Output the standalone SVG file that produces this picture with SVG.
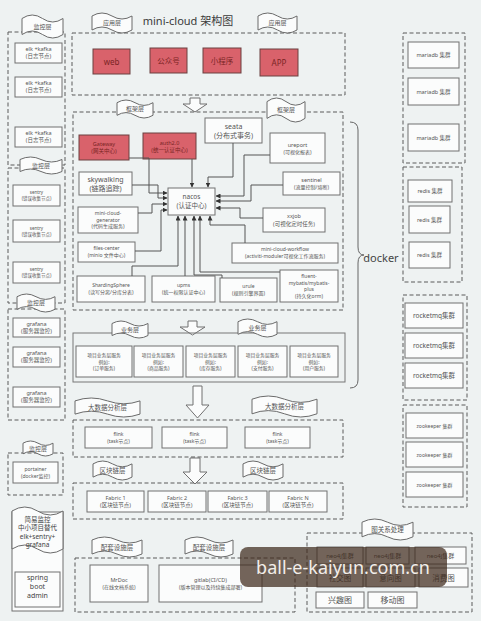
<svg xmlns="http://www.w3.org/2000/svg" width="481" height="621" viewBox="0 0 481 621">
<defs>
<style>
.t{font-family:"Noto Sans","Noto Sans CJK SC",sans-serif;fill:#555;text-anchor:middle}
.b{fill:#fbfcfc;stroke:#707070;stroke-width:1}
.d{fill:none;stroke:#5a5a5a;stroke-width:1;stroke-dasharray:4 2.5}
.r{fill:#d9626b;stroke:#6a4040;stroke-width:1}
.tp{fill:#fbfcfc;stroke:#6b6b6b;stroke-width:1}
.c{fill:none;stroke:#555;stroke-width:1;marker-end:url(#ah)}
.ar{fill:#fbfcfc;stroke:#707070;stroke-width:1}
.rt{fill:#7a2525}
</style>
<marker id="ah" markerWidth="5" markerHeight="5" refX="4.5" refY="2.5" orient="auto" markerUnits="userSpaceOnUse">
<path d="M0,0 L5,2.5 L0,5 z" fill="#333"/>
</marker>
</defs>
<rect x="0" y="0" width="481" height="621" fill="#eef2f2"/>

<g id="mon1">
<rect class="d" x="8" y="32" width="57" height="133"/>
<path class="tp" d="M22,18.5 Q32.25,11.5 42.5,18.5 T63,18.5 L63,34.5 Q52.75,41.5 42.5,34.5 T22,34.5 Z"/>
<text class="t" x="42.5" y="28.5" font-size="6">监控层</text>
<rect class="b" x="15" y="43" width="47" height="20"/>
<text class="t" x="38.5" y="51.4" font-size="5.5">elk +kafka</text><text class="t" x="38.5" y="58.4" font-size="5.5">(日志节点)</text>
<rect class="b" x="15" y="77" width="47" height="20"/>
<text class="t" x="38.5" y="85.4" font-size="5.5">elk +kafka</text><text class="t" x="38.5" y="92.4" font-size="5.5">(日志节点)</text>
<rect class="b" x="15" y="127" width="47" height="20"/>
<text class="t" x="38.5" y="135.4" font-size="5.5">elk +kafka</text><text class="t" x="38.5" y="142.4" font-size="5.5">(日志节点)</text>
</g>
<g id="mon2">
<rect class="d" x="8" y="168" width="57" height="135"/>
<path class="tp" d="M20,159.5 Q30.5,154.5 41,159.5 T62,159.5 L62,171.5 Q51.5,176.5 41,171.5 T20,171.5 Z"/>
<text class="t" x="41" y="167.5" font-size="6">监控层</text>
<rect class="b" x="13" y="185" width="47" height="21"/>
<text class="t" x="36.5" y="194" font-size="4.5">sentry</text><text class="t" x="36.5" y="200" font-size="4.5">(错误收集节点)</text>
<rect class="b" x="13" y="220" width="47" height="22"/>
<text class="t" x="36.5" y="229.5" font-size="4.5">sentry</text><text class="t" x="36.5" y="235.5" font-size="4.5">(错误收集节点)</text>
<rect class="b" x="13" y="262" width="47" height="21"/>
<text class="t" x="36.5" y="271" font-size="4.5">sentry</text><text class="t" x="36.5" y="277" font-size="4.5">(错误收集节点)</text>
</g>
<g id="mon3">
<rect class="d" x="8" y="309" width="57" height="111"/>
<path class="tp" d="M17,296.7 Q26.5,291.3 36,296.7 T55,296.7 L55,309.3 Q45.5,314.7 36,309.3 T17,309.3 Z"/>
<text class="t" x="36" y="305" font-size="6">监控层</text>
<rect class="b" x="13" y="318" width="47" height="19"/>
<text class="t" x="36.5" y="326" font-size="5.5">grafana</text><text class="t" x="36.5" y="333" font-size="5.5">(服务器监控)</text>
<rect class="b" x="13" y="347" width="47" height="20"/>
<text class="t" x="36.5" y="355.4" font-size="5.5">grafana</text><text class="t" x="36.5" y="362.4" font-size="5.5">(服务器监控)</text>
<rect class="b" x="13" y="387" width="47" height="20"/>
<text class="t" x="36.5" y="395.4" font-size="5.5">grafana</text><text class="t" x="36.5" y="402.4" font-size="5.5">(服务器监控)</text>
</g>
<g id="mon4">
<rect class="d" x="8" y="453" width="55" height="42"/>
<path class="tp" d="M23,443.2 Q30.5,438.8 38,443.2 T53,443.2 L53,453.8 Q45.5,458.2 38,453.8 T23,453.8 Z"/>
<text class="t" x="38" y="450.5" font-size="6">监控层</text>
<rect class="b" x="13" y="462" width="45" height="21"/>
<text class="t" x="35.5" y="471" font-size="5">portainer</text><text class="t" x="35.5" y="478" font-size="5">(docker监控)</text>
</g>
<g id="simple-mon">
<rect class="b" x="12" y="512" width="51" height="99"/>
<path class="tp" d="M12,511 Q24.75,503 37.5,511 T63,511 L63,549 Q50.25,557 37.5,549 T12,549 Z"/>
<text class="t" x="37.5" y="522" font-size="6.5" style="fill:#444">简易监控</text>
<text class="t" x="37.5" y="530" font-size="6.5" style="fill:#444">中小项目替代</text>
<text class="t" x="37.5" y="538.5" font-size="6.5" style="fill:#444">elk+sentry+</text>
<text class="t" x="37.5" y="546.5" font-size="6.5" style="fill:#444">grafana</text>
<rect class="b" x="15" y="572" width="45" height="35"/>
<text class="t" x="37.5" y="580" font-size="7" style="fill:#444">spring</text>
<text class="t" x="37.5" y="589" font-size="7" style="fill:#444">boot</text>
<text class="t" x="37.5" y="598" font-size="7" style="fill:#444">admin</text>
</g>

<g id="app-layer">
<text class="t" x="188" y="25" font-size="11" style="fill:#3a3a3a">mini-cloud 架构图</text>
<rect class="d" x="72" y="33" width="273" height="62"/>
<path class="tp" d="M92,16 Q102,10 112,16 T132,16 L132,30 Q122,36 112,30 T92,30 Z"/>
<text class="t" x="112" y="25" font-size="6">应用层</text>
<path class="tp" d="M258,16 Q267.75,10 277.5,16 T297,16 L297,30 Q287.25,36 277.5,30 T258,30 Z"/>
<text class="t" x="277.5" y="25" font-size="6">应用层</text>
</g>
<g id="web"><rect class="r" x="93" y="49" width="37" height="25"/><text class="t rt" x="111.5" y="64.5" font-size="8">web</text></g>
<g id="gzh"><rect class="r" x="150" y="48" width="37" height="25"/><text class="t rt" x="168.5" y="63.5" font-size="7.5">公众号</text></g>
<g id="xcx"><rect class="r" x="203" y="48" width="38" height="25"/><text class="t rt" x="222" y="63.5" font-size="7.5">小程序</text></g>
<g id="app"><rect class="r" x="260" y="49" width="38" height="27"/><text class="t rt" x="279" y="65.5" font-size="8">APP</text></g>

<g id="arrows">
<path class="ar" d="M190,98 H200 V104 H207 L195,112 L183,104 H190 Z"/>
<path class="ar" d="M188,321 H197 V327 H205 L192.5,335 L180,327 H188 Z"/>
<path class="ar" d="M193,386 H202 V405 H209 L197.5,418 L186,405 H193 Z"/>
<path class="ar" d="M190,458 H200 V472 H207 L195,484 L183,472 H190 Z"/>
</g>

<g id="fw-layer">
<rect class="d" x="73" y="112" width="270" height="198"/>
<path class="tp" d="M117,102.7 Q126,97.3 135,102.7 T153,102.7 L153,115.3 Q144,120.7 135,115.3 T117,115.3 Z"/>
<text class="t" x="135" y="111" font-size="6">框架层</text>
<path class="tp" d="M267,101.6 Q276.5,94.4 286,101.6 T305,101.6 L305,118.4 Q295.5,125.6 286,118.4 T267,118.4 Z"/>
<text class="t" x="286" y="112" font-size="6">框架层</text>
</g>
<g id="gateway"><rect class="r" x="79" y="135" width="50" height="25"/><text class="t rt" x="104" y="146" font-size="5.5">Gateway</text><text class="t rt" x="104" y="153" font-size="5.5">(网关中心)</text></g>
<g id="auth"><rect class="r" x="143" y="133" width="53" height="26"/><text class="t rt" x="169.5" y="144.5" font-size="5.5">auth2.0</text><text class="t rt" x="169.5" y="151.5" font-size="5.5">(统一认证中心)</text></g>
<g id="seata"><rect class="b" x="205" y="118" width="57" height="25"/><text class="t" x="233.5" y="128.5" font-size="7">seata</text><text class="t" x="233.5" y="137.5" font-size="7">(分布式事务)</text></g>
<g id="ureport"><rect class="b" x="270" y="133" width="55" height="30"/><text class="t" x="297.5" y="146.5" font-size="5.5">ureport</text><text class="t" x="297.5" y="153.5" font-size="5">(可视化报表)</text></g>
<g id="skywalking"><rect class="b" x="79" y="172" width="53" height="23"/><text class="t" x="105.5" y="181.5" font-size="7">skywalking</text><text class="t" x="105.5" y="190.5" font-size="7">(链路追踪)</text></g>
<g id="sentinel"><rect class="b" x="283" y="172" width="57" height="23"/><text class="t" x="311.5" y="181.8" font-size="5.5">sentinel</text><text class="t" x="311.5" y="188.8" font-size="5">(流量控制/熔断)</text></g>
<g id="nacos"><rect class="b" x="168" y="188" width="47" height="27"/><text class="t" x="191.5" y="199.3" font-size="6.5">nacos</text><text class="t" x="191.5" y="208.3" font-size="6.5">(认证中心)</text></g>
<g id="generator"><rect class="b" x="78" y="207" width="60" height="26"/><text class="t" x="108" y="215" font-size="5">mini-cloud-</text><text class="t" x="108" y="221.5" font-size="5">generator</text><text class="t" x="108" y="228" font-size="5">(代码生成服务)</text></g>
<g id="xxjob"><rect class="b" x="263" y="208" width="62" height="24"/><text class="t" x="294" y="218.2" font-size="5.5">xxjob</text><text class="t" x="294" y="225.7" font-size="5.5">(可视化定时任务)</text></g>
<g id="files"><rect class="b" x="78" y="242" width="57" height="20"/><text class="t" x="106.5" y="250.3" font-size="5">files-center</text><text class="t" x="106.5" y="257.3" font-size="5">(minio 文件中心)</text></g>
<g id="workflow"><rect class="b" x="232" y="243" width="106" height="20"/><text class="t" x="285" y="251.3" font-size="5">mini-cloud-workflow</text><text class="t" x="285" y="258.3" font-size="5">(activiti-moduler可视化工作流服务)</text></g>
<g id="sharding"><rect class="b" x="77" y="276" width="68" height="26"/><text class="t" x="111" y="287.3" font-size="5">ShardingSphere</text><text class="t" x="111" y="294.3" font-size="5">(读写分离/分库分表)</text></g>
<g id="upms"><rect class="b" x="152" y="276" width="63" height="26"/><text class="t" x="183.5" y="287.3" font-size="5">upms</text><text class="t" x="183.5" y="294.3" font-size="5">(统一权限认证中心)</text></g>
<g id="urule"><rect class="b" x="220" y="278" width="57" height="24"/><text class="t" x="248.5" y="288.3" font-size="5">urule</text><text class="t" x="248.5" y="295.3" font-size="5">(规则引擎界面)</text></g>
<g id="fluent"><rect class="b" x="280" y="270" width="58" height="32"/><text class="t" x="309" y="278" font-size="5">fluent-</text><text class="t" x="309" y="284.5" font-size="5">mybatis/mybatis-</text><text class="t" x="309" y="291" font-size="5">plus</text><text class="t" x="309" y="297.5" font-size="5">(持久化orm)</text></g>

<g id="connectors">
<path class="c" d="M129,158 H149 V193 H167"/>
<path class="c" d="M192,159 V187"/>
<path class="c" d="M233,143 V177 H208 V187"/>
<path class="c" d="M270,155 H244 V196 H216"/>
<path class="c" d="M132,185 H158 V198 H167"/>
<path class="c" d="M283,185 H251 V201 H216"/>
<path class="c" d="M138,213 H152 V204 H167"/>
<path class="c" d="M135,251 H161 V210 H167"/>
<path class="c" d="M132,276 V266 H178 V216"/>
<path class="c" d="M185,276 V216"/>
<path class="c" d="M222,278 V275 H194 V216"/>
<path class="c" d="M280,272 H200 V216"/>
<path class="c" d="M263,218 H240 V208 H216"/>
<path class="c" d="M245,243 V225 H210 V216"/>
</g>

<g id="docker">
<path d="M350,122 Q358,122 358,130 V247 Q358,255 364,255 Q358,255 358,263 V380 Q358,388 350,388" fill="none" stroke="#666" stroke-width="1"/>
<text class="t" x="381" y="262" font-size="11" style="fill:#444">docker</text>
</g>

<g id="biz-layer">
<rect x="73" y="333" width="272" height="49" fill="none" stroke="#777" stroke-width="1"/>
<path class="tp" d="M112,323.5 Q121,318.5 130,323.5 T148,323.5 L148,335.5 Q139,340.5 130,335.5 T112,335.5 Z"/>
<text class="t" x="130" y="331.5" font-size="6">业务层</text>
<path class="tp" d="M238,321.7 Q247.75,316.3 257.5,321.7 T277,321.7 L277,334.3 Q267.25,339.7 257.5,334.3 T238,334.3 Z"/>
<text class="t" x="257.5" y="330" font-size="6">业务层</text>
</g>
<g id="biz1"><rect class="b" x="76" y="346" width="56" height="31"/><text class="t" x="104" y="357" font-size="4.8">项目业务层服务</text><text class="t" x="104" y="363.5" font-size="4.8">例如:</text><text class="t" x="104" y="370" font-size="4.8">(订单服务)</text></g>
<g id="biz2"><rect class="b" x="134" y="346" width="49" height="31"/><text class="t" x="158.5" y="357" font-size="4.8">项目业务层服务</text><text class="t" x="158.5" y="363.5" font-size="4.8">例如:</text><text class="t" x="158.5" y="370" font-size="4.8">(商品服务)</text></g>
<g id="biz3"><rect class="b" x="186" y="346" width="49" height="31"/><text class="t" x="210.5" y="357" font-size="4.8">项目业务层服务</text><text class="t" x="210.5" y="363.5" font-size="4.8">例如:</text><text class="t" x="210.5" y="370" font-size="4.8">(库存服务)</text></g>
<g id="biz4"><rect class="b" x="238" y="346" width="49" height="31"/><text class="t" x="262.5" y="357" font-size="4.8">项目业务层服务</text><text class="t" x="262.5" y="363.5" font-size="4.8">例如:</text><text class="t" x="262.5" y="370" font-size="4.8">(支付服务)</text></g>
<g id="biz5"><rect class="b" x="290" y="346" width="48" height="31"/><text class="t" x="314" y="357" font-size="4.8">项目业务层服务</text><text class="t" x="314" y="363.5" font-size="4.8">例如:</text><text class="t" x="314" y="370" font-size="4.8">(用户服务)</text></g>

<g id="bigdata-layer">
<rect class="d" x="73" y="420" width="270" height="37"/>
<path class="tp" d="M75,400.9 Q91.25,395.1 107.5,400.9 T140,400.9 L140,414.1 Q123.75,419.9 107.5,414.1 T75,414.1 Z"/>
<text class="t" x="107.5" y="410" font-size="6.5">大数据分析层</text>
<path class="tp" d="M252,399.2 Q268.25,392.8 284.5,399.2 T317,399.2 L317,413.8 Q300.75,420.2 284.5,413.8 T252,413.8 Z"/>
<text class="t" x="284.5" y="409" font-size="6.5">大数据分析层</text>
</g>
<g id="flink1"><rect class="b" x="85" y="427" width="67" height="21"/><text class="t" x="118.5" y="435.8" font-size="5">flink</text><text class="t" x="118.5" y="442.8" font-size="5">(task节点)</text></g>
<g id="flink2"><rect class="b" x="162" y="427" width="65" height="21"/><text class="t" x="194.5" y="435.8" font-size="5">flink</text><text class="t" x="194.5" y="442.8" font-size="5">(task节点)</text></g>
<g id="flink3"><rect class="b" x="245" y="427" width="65" height="21"/><text class="t" x="277.5" y="435.8" font-size="5">flink</text><text class="t" x="277.5" y="442.8" font-size="5">(task节点)</text></g>

<g id="chain-layer">
<rect class="d" x="73" y="483" width="270" height="36"/>
<path class="tp" d="M93,463.9 Q102.75,458.1 112.5,463.9 T132,463.9 L132,477.1 Q122.25,482.9 112.5,477.1 T93,477.1 Z"/>
<text class="t" x="112.5" y="472.5" font-size="6.5">区块链层</text>
<path class="tp" d="M243,463.9 Q253,458.1 263,463.9 T283,463.9 L283,477.1 Q273,482.9 263,477.1 T243,477.1 Z"/>
<text class="t" x="263" y="472.5" font-size="6.5">区块链层</text>
</g>
<g id="fabric1"><rect class="b" x="87" y="491" width="57" height="21"/><text class="t" x="115.5" y="499.8" font-size="5.5">Fabric 1</text><text class="t" x="115.5" y="506.8" font-size="5.5">(区块链节点)</text></g>
<g id="fabric2"><rect class="b" x="148" y="491" width="58" height="21"/><text class="t" x="177" y="499.8" font-size="5.5">Fabric 2</text><text class="t" x="177" y="506.8" font-size="5.5">(区块链节点)</text></g>
<g id="fabric3"><rect class="b" x="208" y="491" width="59" height="21"/><text class="t" x="237.5" y="499.8" font-size="5.5">Fabric 3</text><text class="t" x="237.5" y="506.8" font-size="5.5">(区块链节点)</text></g>
<g id="fabricN"><rect class="b" x="269" y="491" width="58" height="21"/><text class="t" x="298" y="499.8" font-size="5.5">Fabric N</text><text class="t" x="298" y="506.8" font-size="5.5">(区块链节点)</text></g>

<g id="support-layer">
<rect class="d" x="75" y="558" width="220" height="54"/>
<path class="tp" d="M92,540 Q104.5,534 117,540 T142,540 L142,554 Q129.5,560 117,554 T92,554 Z"/>
<text class="t" x="117" y="549.5" font-size="6.5">配套设施层</text>
<path class="tp" d="M185,540 Q197,534 209,540 T233,540 L233,554 Q221,560 209,554 T185,554 Z"/>
<text class="t" x="209" y="549.5" font-size="6.5">配套设施层</text>
</g>
<g id="mrdoc"><rect class="b" x="90" y="565" width="58" height="37"/><text class="t" x="119" y="582" font-size="5.5">MrDoc</text><text class="t" x="119" y="589" font-size="5">(在线文档系统)</text></g>
<g id="gitlab"><rect class="b" x="159" y="565" width="103" height="37"/><text class="t" x="210.5" y="582" font-size="5.5">gitlab(CI/CD)</text><text class="t" x="210.5" y="589" font-size="5">(版本管理以及持续集成部署)</text></g>

<g id="graph-layer">
<rect class="d" x="307" y="533" width="165" height="79"/>
<path class="tp" d="M362,522.2 Q374.75,515.8 387.5,522.2 T413,522.2 L413,536.8 Q400.25,543.2 387.5,536.8 T362,536.8 Z"/>
<text class="t" x="387.5" y="532" font-size="6.5">图关系处理</text>
</g>
<g id="neo1"><rect class="b" x="317" y="547" width="46" height="17"/><text class="t" x="340" y="557.8" font-size="6">neo4j集群</text></g>
<g id="neo2"><rect class="b" x="366" y="547" width="43" height="17"/><text class="t" x="387.5" y="557.8" font-size="6">neo4j集群</text></g>
<g id="neo3"><rect class="b" x="415" y="547" width="51" height="17"/><text class="t" x="440.5" y="557.8" font-size="6">neo4j集群</text></g>
<g id="g1"><rect class="b" x="317" y="568" width="46" height="19"/><text class="t" x="340" y="580.5" font-size="7.5">社交图</text></g>
<g id="g2"><rect class="b" x="366" y="568" width="49" height="19"/><text class="t" x="390.5" y="580.5" font-size="7.5">意向图</text></g>
<g id="g3"><rect class="b" x="419" y="568" width="49" height="19"/><text class="t" x="443.5" y="580.5" font-size="7.5">消费图</text></g>
<g id="g4"><rect class="b" x="316" y="592" width="48" height="16"/><text class="t" x="340" y="603" font-size="8">兴趣图</text></g>
<g id="g5"><rect class="b" x="368" y="592" width="49" height="16"/><text class="t" x="392.5" y="603" font-size="8">移动图</text></g>

<g id="mariadb">
<rect class="d" x="403" y="33" width="62" height="130"/>
<rect class="b" x="408" y="42" width="51" height="26"/><text class="t" x="433.5" y="57" font-size="5.5">mariadb 集群</text>
<rect class="b" x="408" y="78" width="51" height="27"/><text class="t" x="433.5" y="93.5" font-size="5.5">mariadb 集群</text>
<rect class="b" x="408" y="124" width="51" height="27"/><text class="t" x="433.5" y="139.5" font-size="5.5">mariadb 集群</text>
</g>
<g id="redis">
<rect class="d" x="403" y="167" width="59" height="115"/>
<rect class="b" x="408" y="180" width="44" height="22"/><text class="t" x="430" y="193" font-size="5.5">redis 集群</text>
<rect class="b" x="409" y="206" width="41" height="27"/><text class="t" x="429.5" y="221.5" font-size="5.5">redis 集群</text>
<rect class="b" x="409" y="242" width="41" height="26"/><text class="t" x="429.5" y="257" font-size="5.5">redis 集群</text>
</g>
<g id="rocketmq">
<rect class="d" x="403" y="295" width="64" height="105"/>
<rect class="b" x="405" y="303" width="58" height="25"/><text class="t" x="434" y="318" font-size="6.5">rocketmq集群</text>
<rect class="b" x="405" y="333" width="58" height="25"/><text class="t" x="434" y="348" font-size="6.5">rocketmq集群</text>
<rect class="b" x="405" y="363" width="58" height="25"/><text class="t" x="434" y="378" font-size="6.5">rocketmq集群</text>
</g>
<g id="zookeeper">
<rect class="d" x="403" y="405" width="64" height="102"/>
<rect class="b" x="406" y="413" width="57" height="25"/><text class="t" x="434.5" y="427.5" font-size="5">zookeeper 集群</text>
<rect class="b" x="406" y="442" width="57" height="25"/><text class="t" x="434.5" y="456.5" font-size="5">zookeeper 集群</text>
<rect class="b" x="406" y="472" width="57" height="25"/><text class="t" x="434.5" y="486.5" font-size="5">zookeeper 集群</text>
</g>

<g id="watermark">
<rect x="240" y="547" width="207" height="40" rx="8" fill="#3e2a1c" fill-opacity="0.72"/>
<text class="t" x="343" y="573.5" font-size="18" style="fill:#f2eeea">ball-e-kaiyun.com.cn</text>
</g>
</svg>
